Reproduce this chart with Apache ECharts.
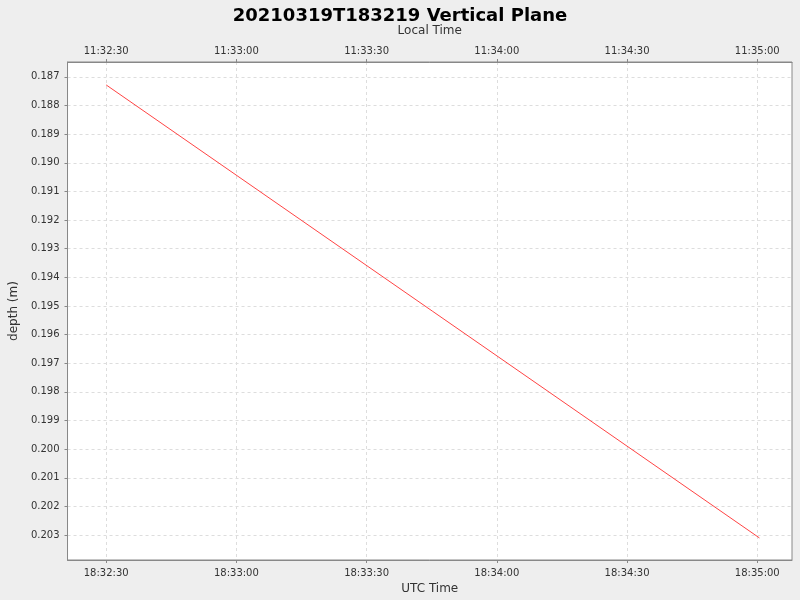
<!DOCTYPE html><html><head><meta charset="utf-8"><script src="https://cdn.jsdelivr.net/npm/echarts@6/dist/echarts.min.js"></script></head><body style="margin:0;background:#eeeeee"><div id="c" style="width:800px;height:600px"></div><script>
// seconds since 18:32:00 UTC
const times=[30,180.5];
const depths=[0.18728,0.2031];
const xTicks=[30,60,90,120,150,180];
const yTicks=[0.187,0.188,0.189,0.190,0.191,0.192,0.193,0.194,0.195,0.196,0.197,0.198,0.199,0.200,0.201,0.202,0.203];
function fmt(s,h){const m=32+Math.floor(s/60),ss=Math.round(s%60);return h+':'+String(m).padStart(2,'0')+':'+String(ss).padStart(2,'0');}
const ch=echarts.init(document.getElementById('c'));
const lab={fontSize:10,color:'#333',fontFamily:'DejaVu Sans'};
const sl={show:true,lineStyle:{color:'#dddddd',type:[3,3]}};
ch.setOption({backgroundColor:'#eeeeee',animation:false,
title:{text:'20210319T183219 Vertical Plane',left:'center',top:2,textStyle:{fontSize:18,fontWeight:'bold',color:'#000',fontFamily:'DejaVu Sans'}},
grid:{left:62,right:8,top:62,bottom:40,show:true,backgroundColor:'#fff',borderColor:'#888'},
xAxis:[{type:'value',min:21.1,max:188,position:'bottom',name:'UTC Time',nameLocation:'middle',nameGap:20,nameTextStyle:{fontSize:12,color:'#333',fontFamily:'DejaVu Sans'},
axisLine:{lineStyle:{color:'#888'}},axisTick:{customValues:xTicks,length:3},axisLabel:Object.assign({customValues:xTicks,formatter:v=>fmt(v,'18')},lab),splitLine:sl},
{type:'value',min:21.1,max:188,position:'top',name:'Local Time',nameLocation:'middle',nameGap:25,nameTextStyle:{fontSize:12,color:'#333',fontFamily:'DejaVu Sans'},
axisLine:{lineStyle:{color:'#888'}},axisTick:{customValues:xTicks,length:3},axisLabel:Object.assign({customValues:xTicks,formatter:v=>fmt(v,'11'),margin:6},lab),splitLine:{show:false}}],
yAxis:{type:'value',inverse:true,min:0.18648,max:0.20387,name:'depth (m)',nameLocation:'middle',nameGap:36,nameTextStyle:{fontSize:12,color:'#333',fontFamily:'DejaVu Sans'},
axisLine:{show:true,lineStyle:{color:'#888'}},axisTick:{show:true,customValues:yTicks,length:3},axisLabel:Object.assign({customValues:yTicks,formatter:v=>v.toFixed(3)},lab),splitLine:sl},
series:[{type:'line',data:times.map((t,i)=>[t,depths[i]]),showSymbol:false,lineStyle:{color:'#ff4444',width:1}}]});
</script></body></html>
